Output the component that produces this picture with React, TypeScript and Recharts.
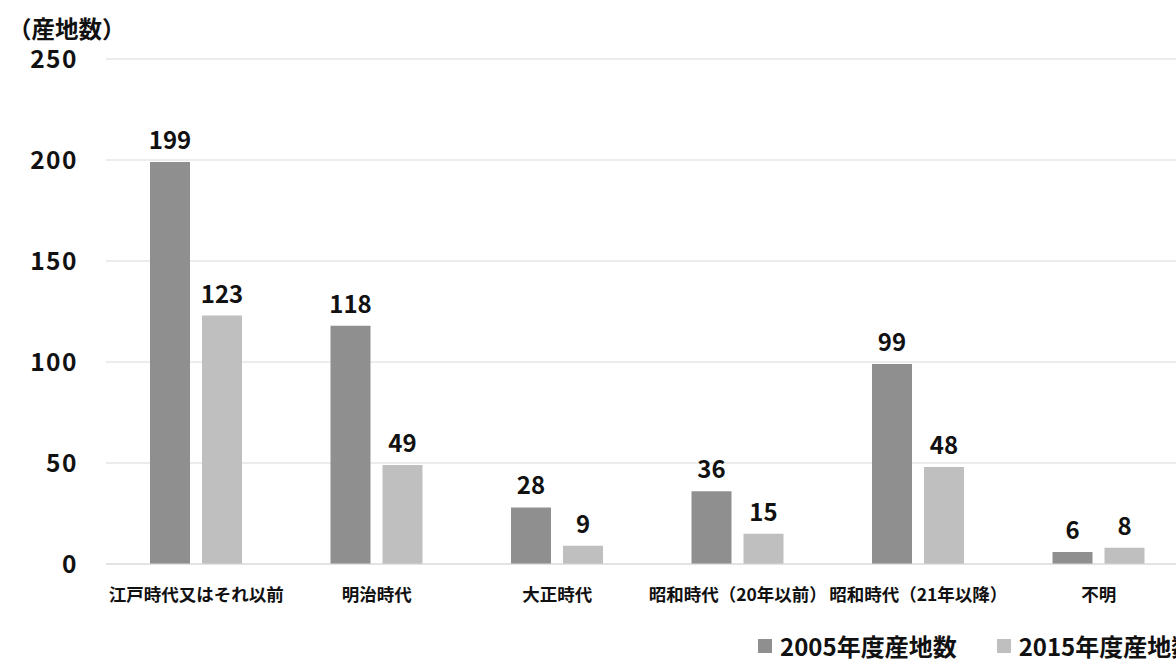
import React from "react";
import { BarChart, Bar, XAxis, YAxis, CartesianGrid, Legend, LabelList } from "recharts";

// 産地の成立時期別の産地数（2005年度・2015年度）
const periods = [
  "江戸時代又はそれ以前",
  "明治時代",
  "大正時代",
  "昭和時代（20年以前）",
  "昭和時代（21年以降）",
  "不明",
];
const counts2005 = [199, 118, 28, 36, 99, 6];
const counts2015 = [123, 49, 9, 15, 48, 8];
const yTicks = [0, 50, 100, 150, 200, 250];

const seriesNames = ["2005年度産地数", "2015年度産地数"];
const seriesColors = ["#8f8f8f", "#bfbfbf"];

const data = periods.map((p, i) => ({
  period: p,
  v2005: counts2005[i],
  v2015: counts2015[i],
}));

const FONT = '"Noto Sans CJK JP", "Noto Sans", sans-serif';

function LegendContent(props: any) {
  const payload = props.payload || [];
  return (
    <div
      style={{
        display: "flex",
        whiteSpace: "nowrap",
        paddingLeft: 758,
        paddingTop: 18,
        fontFamily: FONT,
        fontWeight: 700,
        fontSize: 24,
        lineHeight: "28px",
        color: "#111",
      }}
    >
      {payload.map((item: any, i: number) => (
        <div key={i} style={{ display: "flex", alignItems: "center", marginRight: 40 }}>
          <span
            style={{
              display: "inline-block",
              width: 14,
              height: 14,
              background: item.color,
              marginRight: 8,
            }}
          />
          <span>{item.value}</span>
        </div>
      ))}
    </div>
  );
}

export default function App() {
  return (
    <div
      style={{
        position: "fixed",
        left: 0,
        top: 0,
        width: 1176,
        height: 660,
        overflow: "hidden",
        background: "#fff",
      }}
    >
      <div
        style={{
          position: "absolute",
          left: 8,
          top: 11,
          fontFamily: FONT,
          fontWeight: 700,
          fontSize: 23.5,
          color: "#111",
          zIndex: 2,
        }}
      >
        （産地数）
      </div>
      <BarChart
        width={1200}
        height={660}
        data={data}
        margin={{ top: 59, right: 11, bottom: 0, left: 0 }}
        barGap={12}
        barSize={40}
      >
        <CartesianGrid vertical={false} stroke="#d9d9d9" strokeWidth={1.2} />
        <XAxis
          dataKey="period"
          interval={0}
          height={50}
          tickLine={false}
          tickSize={0}
          tickMargin={25}
          axisLine={{ stroke: "#d9d9d9", strokeWidth: 1.2 }}
          tick={{ fontFamily: FONT, fontWeight: 700, fontSize: 17.5, fill: "#111" }}
        />
        <YAxis
          width={106}
          domain={[0, 250]}
          ticks={yTicks}
          tickLine={false}
          axisLine={false}
          tickSize={0}
          tickMargin={28}
          tick={{ fontFamily: FONT, fontWeight: 700, fontSize: 24.5, fill: "#111", letterSpacing: 1.5 }}
        />
        <Legend
          verticalAlign="bottom"
          align="left"
          height={46}
          wrapperStyle={{ left: 0, width: 1200, height: 46 }}
          content={<LegendContent />}
        />
        <Bar dataKey="v2005" name={seriesNames[0]} fill={seriesColors[0]} isAnimationActive={false}>
          <LabelList
            dataKey="v2005"
            position="top"
            offset={13}
            style={{ fontFamily: FONT, fontWeight: 700, fontSize: 24, fill: "#111" }}
          />
        </Bar>
        <Bar dataKey="v2015" name={seriesNames[1]} fill={seriesColors[1]} isAnimationActive={false}>
          <LabelList
            dataKey="v2015"
            position="top"
            offset={13}
            style={{ fontFamily: FONT, fontWeight: 700, fontSize: 24, fill: "#111" }}
          />
        </Bar>
      </BarChart>
    </div>
  );
}
